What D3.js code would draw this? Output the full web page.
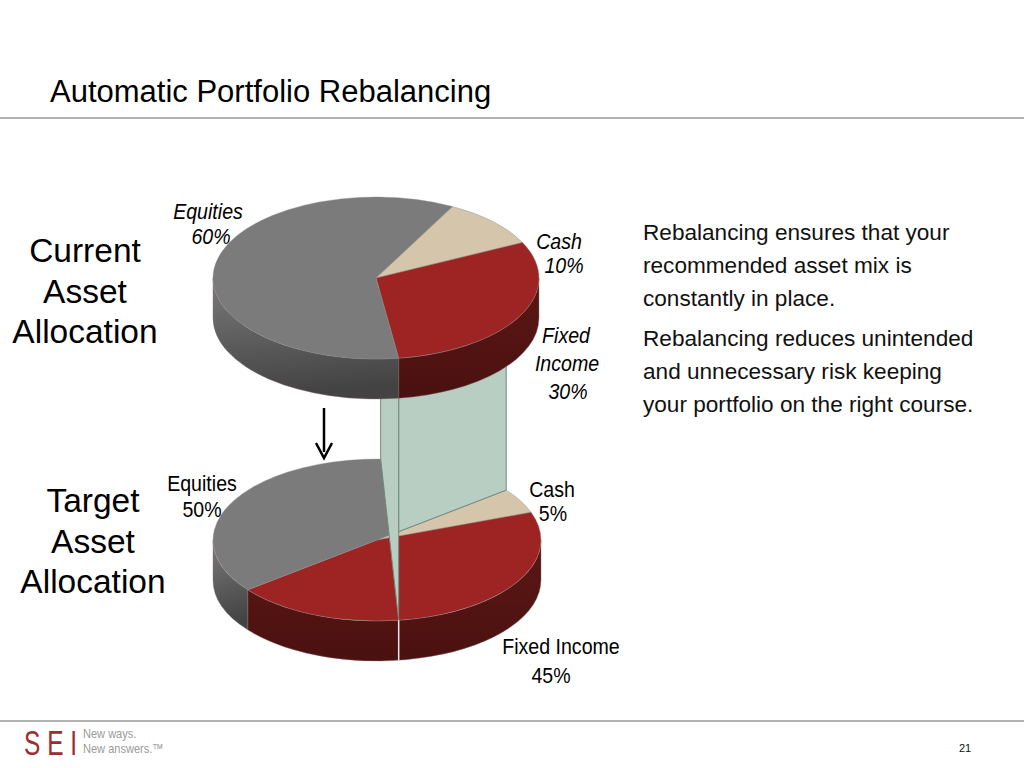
<!DOCTYPE html>
<html>
  <head>
    <meta charset="utf-8" />
    <title>Automatic Portfolio Rebalancing</title>
    <script src="https://d3js.org/d3.v7.min.js"></script>
    <style>
      body { margin: 0; background: #fff; }
      svg text { font-family: "Liberation Sans", Arial, Helvetica, sans-serif; }
    </style>
  </head>
  <body>
    <svg width="1024" height="768"></svg>
    <script>
      // Data, in the order the slices run clockwise
      const categories = ["Cash", "Fixed Income", "Equities"];
      const currentValues = [10, 30, 60];
      const targetValues = [5, 45, 50];
      const noteLines = [
        "Rebalancing ensures that your",
        "recommended asset mix is",
        "constantly in place.",
        "Rebalancing reduces unintended",
        "and unnecessary risk keeping",
        "your portfolio on the right course."
      ];

      const svg = d3.select("svg");
      const deg = Math.PI / 180;

      const topColor = { "Cash": "#d5c6ab", "Fixed Income": "#9e2323", "Equities": "#7b7b7b" };

      const defs = svg.append("defs");
      const gEq = defs.append("linearGradient").attr("id", "sideEq")
        .attr("x1", 0).attr("y1", 0).attr("x2", 0.15).attr("y2", 1);
      gEq.append("stop").attr("offset", "0%").attr("stop-color", "#7a7a7a");
      gEq.append("stop").attr("offset", "100%").attr("stop-color", "#434343");
      const gFi = defs.append("linearGradient").attr("id", "sideFi")
        .attr("x1", 0).attr("y1", 0).attr("x2", 0).attr("y2", 1);
      gFi.append("stop").attr("offset", "0%").attr("stop-color", "#5c1714");
      gFi.append("stop").attr("offset", "100%").attr("stop-color", "#4a1110");
      const sideColor = { "Cash": "#a89a80", "Fixed Income": "url(#sideFi)", "Equities": "url(#sideEq)" };

      // the two 3d pies
      const current = { cx: 376, cy: 278, rx: 163, ry: 81, depth: 40, start: 28 * deg };
      const target = { cx: 377, cy: 540, rx: 164, ry: 81, depth: 40, start: 52 * deg };

      function proj(p, a, dy) {
        return [p.cx + p.rx * Math.sin(a), p.cy - p.ry * Math.cos(a) + (dy || 0)];
      }

      function topPath(p, a0, a1) {
        const s = proj(p, a0), e = proj(p, a1);
        const large = a1 - a0 > Math.PI ? 1 : 0;
        return "M" + p.cx + "," + p.cy + "L" + s + "A" + p.rx + "," + p.ry + " 0 " + large + " 1 " + e + "Z";
      }

      function sidePath(p, a0, a1) {
        const s = proj(p, a0), e = proj(p, a1);
        const sb = proj(p, a0, p.depth), eb = proj(p, a1, p.depth);
        return "M" + s + "A" + p.rx + "," + p.ry + " 0 0 1 " + e +
          "L" + eb + "A" + p.rx + "," + p.ry + " 0 0 0 " + sb + "Z";
      }

      // parts of a slice that face the viewer (between 90 and 270 degrees)
      function frontParts(a0, a1) {
        const parts = [];
        [0, 2 * Math.PI].forEach((off) => {
          const lo = Math.max(a0, Math.PI / 2 + off);
          const hi = Math.min(a1, 1.5 * Math.PI + off);
          if (hi > lo) parts.push([lo, hi]);
        });
        return parts;
      }

      function layout(p, values) {
        return d3.pie().sort(null)
          .startAngle(p.start).endAngle(p.start + 2 * Math.PI)
          .value((d) => d.v)(categories.map((c, i) => ({ c: c, v: values[i] })));
      }

      function drawSides(p, arcs) {
        const g = svg.append("g");
        arcs.forEach((d) => {
          frontParts(d.startAngle, d.endAngle).forEach((r) => {
            g.append("path")
              .attr("d", sidePath(p, r[0], r[1]))
              .attr("fill", sideColor[d.data.c])
              .attr("stroke", "#8a6a6a").attr("stroke-width", 0.4);
          });
        });
      }

      function drawTop(p, arcs) {
        svg.append("g").selectAll("path")
          .data(arcs)
          .join("path")
          .attr("d", (d) => topPath(p, d.startAngle, d.endAngle))
          .attr("fill", (d) => topColor[d.data.c])
          .attr("stroke", "#8d8d8d").attr("stroke-width", 0.4);
      }

      const currentArcs = layout(current, currentValues);
      const targetArcs = layout(target, targetValues);

      // bottom pie first
      drawSides(target, targetArcs);
      drawTop(target, targetArcs);

      // pillar linking the two pies
      const fiEnd = currentArcs[1].endAngle;
      const midX = proj(current, fiEnd)[0];
      const leftX = midX - 18;
      const cashStart = proj(target, targetArcs[0].startAngle);
      const rightX = cashStart[0];
      const pillarTop = current.cy;
      const yOnRadius = target.cy + (midX - target.cx) / (rightX - target.cx) * (cashStart[1] - target.cy);
      const halfY = (x) => target.ry * Math.sqrt(1 - Math.pow((x - target.cx) / target.rx, 2));

      svg.append("path")
        .attr("d", d3.line()([[midX, pillarTop], [rightX, pillarTop], cashStart, [midX, yOnRadius]]) + "Z")
        .attr("fill", "#b9cec3").attr("stroke", "#6f8a7f").attr("stroke-width", 1);
      svg.append("path")
        .attr("d", d3.line()([[leftX, pillarTop], [midX, pillarTop],
          [midX, target.cy + halfY(midX)], [leftX, target.cy - halfY(leftX)]]) + "Z")
        .attr("fill", "#b9cec3").attr("stroke", "#6f8a7f").attr("stroke-width", 1);
      svg.append("line")
        .attr("x1", midX).attr("x2", midX)
        .attr("y1", target.cy + halfY(midX)).attr("y2", target.cy + halfY(midX) + target.depth)
        .attr("stroke", "#f2e6e6").attr("stroke-width", 1.5);

      // top pie
      drawSides(current, currentArcs);
      drawTop(current, currentArcs);

      // condensed text: squeeze horizontally around its anchor
      function narrow(x, y, s, size, opts) {
        const o = opts || {};
        return svg.append("g")
          .attr("transform", "translate(" + x + "," + y + ") scale(" + (o.sx || 0.8) + ",1)")
          .append("text")
          .attr("text-anchor", o.anchor || "middle")
          .attr("font-size", size)
          .attr("font-style", o.italic ? "italic" : "normal")
          .attr("fill", o.fill || "#000")
          .text(s);
      }

      function label(lines, xs, y, italic, lh) {
        lines.forEach((s, i) => narrow(xs[i], y + i * lh, s, 22.5, { italic: italic, sx: 0.87 }));
      }
      const pct = (v) => v + "%";
      label(["Equities", pct(currentValues[2])], [208, 211], 219, true, 25);
      label(["Cash", pct(currentValues[0])], [559, 564], 249, true, 24);
      label(["Fixed", "Income", pct(currentValues[1])], [566, 567, 568], 343, true, 28);
      label(["Equities", pct(targetValues[2])], [202, 202], 491, false, 26);
      label(["Cash", pct(targetValues[0])], [552, 553], 497, false, 24);
      label(["Fixed Income", pct(targetValues[1])], [561, 551], 654, false, 29);

      // side captions
      function caption(lines, x, y) {
        const t = svg.append("text").attr("text-anchor", "middle").attr("font-size", 33.5).attr("fill", "#000");
        lines.forEach((s, i) => t.append("tspan").attr("x", x).attr("y", y + i * 40.5).text(s));
      }
      caption(["Current", "Asset", "Allocation"], 85, 262);
      caption(["Target", "Asset", "Allocation"], 93, 512);

      // arrow
      svg.append("line").attr("x1", 324).attr("x2", 324).attr("y1", 408).attr("y2", 452)
        .attr("stroke", "#000").attr("stroke-width", 2.5);
      svg.append("path").attr("d", "M316,443L324,458L332,443").attr("fill", "none")
        .attr("stroke", "#000").attr("stroke-width", 2.5);

      // notes on the right
      const noteY = [240, 273, 306, 346, 379, 412];
      svg.append("g").selectAll("text")
        .data(noteLines)
        .join("text")
        .attr("x", 643).attr("y", (d, i) => noteY[i])
        .attr("font-size", 22.6).attr("fill", "#111")
        .text((d) => d);

      // title and rules
      svg.append("text").attr("x", 50).attr("y", 102).attr("font-size", 31).attr("fill", "#000")
        .text("Automatic Portfolio Rebalancing");
      svg.append("line").attr("x1", 0).attr("x2", 1024).attr("y1", 118).attr("y2", 118)
        .attr("stroke", "#666").attr("stroke-width", 1.2);
      svg.append("line").attr("x1", 0).attr("x2", 1024).attr("y1", 721).attr("y2", 721)
        .attr("stroke", "#666").attr("stroke-width", 1.2);

      // footer
      narrow(24, 755, "S E I", 35, { anchor: "start", sx: 0.7, fill: "#9b2e2e" });
      narrow(83, 738, "New ways.", 13, { anchor: "start", sx: 0.85, fill: "#9a9a9a" });
      narrow(83, 753, "New answers.\u2122", 13, { anchor: "start", sx: 0.85, fill: "#9a9a9a" });
      svg.append("text").attr("x", 965).attr("y", 752).attr("font-size", 11).attr("fill", "#111")
        .attr("text-anchor", "middle").text("21");
    </script>
  </body>
</html>
